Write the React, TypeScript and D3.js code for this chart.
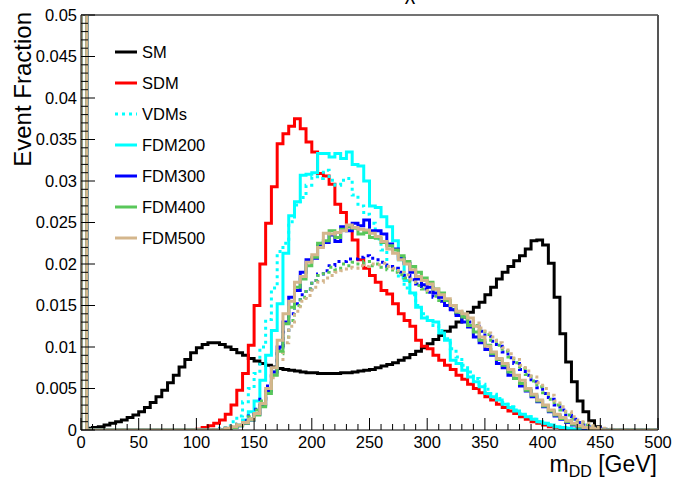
import React from "react";
import * as d3 from "d3";

// ---------- data (Event Fraction per 5 GeV bin, 0..500 GeV) ----------
const binEdgesGeV = d3.range(0, 505, 5);

const smValues = [
  0.06, 0.0002, 0.0003, 0.0004, 0.0006, 0.0008, 0.001, 0.0012, 0.0015, 0.0018,
  0.0022, 0.0027, 0.0033, 0.004, 0.0048, 0.0057, 0.0066, 0.0076, 0.0085, 0.0093,
  0.0099, 0.0103, 0.0105, 0.0105, 0.0103, 0.01, 0.0097, 0.0093, 0.009, 0.0086,
  0.0083, 0.008, 0.0078, 0.0076, 0.0074, 0.0073, 0.0072, 0.0071, 0.007, 0.0069,
  0.0069, 0.0068, 0.0068, 0.0068, 0.0068, 0.0069, 0.0069, 0.007, 0.0071, 0.0072,
  0.0073, 0.0075, 0.0077, 0.0079, 0.0081, 0.0084, 0.0087, 0.0091, 0.0095, 0.0099,
  0.0104, 0.0109, 0.0114, 0.0119, 0.0124, 0.013, 0.0136, 0.0142, 0.0148, 0.0154,
  0.0163, 0.0172, 0.0182, 0.019, 0.0197, 0.0204, 0.021, 0.0218, 0.0228, 0.0229,
  0.0223, 0.0201, 0.016, 0.0116, 0.0082, 0.0058, 0.0035, 0.0022, 0.0011, 0.0004,
  0.0001, 0, 0, 0, 0, 0, 0, 0, 0, 0,
];

const sdmValues = [
  0.06, 0, 0, 0, 0, 0, 0, 0, 0, 0,
  0, 0, 0, 0, 0, 0, 0, 0, 0, 0,
  0.0001, 0.0003, 0.0005, 0.0008, 0.0012, 0.0019, 0.003, 0.0048, 0.0068, 0.0102,
  0.015, 0.02, 0.0249, 0.0293, 0.0345, 0.0357, 0.0366, 0.0375, 0.0363, 0.0347,
  0.0335, 0.0309, 0.0306, 0.0296, 0.0272, 0.0262, 0.0245, 0.0229, 0.0205, 0.0195,
  0.0186, 0.0178, 0.0168, 0.0164, 0.0152, 0.014, 0.0132, 0.0125, 0.0108, 0.0101,
  0.0098, 0.009, 0.0084, 0.0078, 0.0073, 0.0066, 0.0061, 0.0055, 0.005, 0.0045,
  0.004, 0.0036, 0.0031, 0.0027, 0.0023, 0.002, 0.0016, 0.0013, 0.001, 0.0008,
  0.0006, 0.0004, 0.0003, 0.0002, 0.0001, 0.0001, 0, 0, 0, 0,
  0, 0, 0, 0, 0, 0, 0, 0, 0, 0,
];

const vdmsValues = [
  0.06, 0, 0, 0, 0, 0, 0, 0, 0, 0,
  0, 0, 0, 0, 0, 0, 0, 0, 0, 0,
  0, 0, 0, 0, 0.0002, 0.0005, 0.001, 0.0017, 0.0034, 0.005,
  0.0068, 0.01, 0.0133, 0.0171, 0.0215, 0.0225, 0.0251, 0.0271, 0.028, 0.0295,
  0.0305, 0.0303, 0.0313, 0.0301, 0.0295, 0.0301, 0.0303, 0.0283, 0.027, 0.026,
  0.0249, 0.023, 0.0217, 0.0197, 0.0193, 0.0183, 0.0171, 0.0163, 0.015, 0.014,
  0.0132, 0.0126, 0.012, 0.011, 0.0098, 0.0088, 0.0078, 0.007, 0.0062, 0.0055,
  0.0049, 0.0043, 0.0038, 0.0033, 0.0028, 0.0024, 0.002, 0.0016, 0.0013, 0.001,
  0.0008, 0.0006, 0.0004, 0.0003, 0.0002, 0.0001, 0, 0, 0, 0,
  0, 0, 0, 0, 0, 0, 0, 0, 0, 0,
];

const fdm200Values = [
  0.06, 0, 0, 0, 0, 0, 0, 0, 0, 0,
  0, 0, 0, 0, 0, 0, 0, 0, 0, 0,
  0, 0, 0, 0, 0, 0, 0.0003, 0.0006, 0.0012, 0.0022,
  0.0035, 0.006, 0.009, 0.012, 0.0152, 0.0213, 0.0258, 0.0275, 0.0307, 0.0308,
  0.031, 0.0333, 0.0333, 0.0329, 0.0333, 0.0327, 0.0335, 0.032, 0.0318, 0.03,
  0.027, 0.0268, 0.0257, 0.0245, 0.0228, 0.0205, 0.018, 0.0165, 0.0148, 0.0135,
  0.0132, 0.013, 0.0117, 0.0108, 0.0084, 0.008, 0.0072, 0.0064, 0.0058, 0.0052,
  0.0044, 0.004, 0.0036, 0.0031, 0.0027, 0.0023, 0.0019, 0.0016, 0.0013, 0.001,
  0.0008, 0.0006, 0.0004, 0.0003, 0.0002, 0.0001, 0, 0, 0, 0,
  0, 0, 0, 0, 0, 0, 0, 0, 0, 0,
];

const fdm300Values = [
  0.06, 0, 0, 0, 0, 0, 0, 0, 0, 0,
  0, 0, 0, 0, 0, 0, 0, 0, 0, 0,
  0, 0, 0, 0, 0, 0.0001, 0.0003, 0.0005, 0.0008, 0.0012,
  0.0019, 0.003, 0.0047, 0.007, 0.01, 0.013, 0.016, 0.0168, 0.019, 0.0205,
  0.0207, 0.0222, 0.0226, 0.0235, 0.0227, 0.0245, 0.024, 0.0249, 0.0246, 0.0253,
  0.024, 0.024, 0.0236, 0.0224, 0.0218, 0.0207, 0.0201, 0.019, 0.0182, 0.0175,
  0.0172, 0.0165, 0.016, 0.015, 0.0145, 0.0138, 0.013, 0.0124, 0.0112, 0.0105,
  0.0097, 0.009, 0.008, 0.0075, 0.0066, 0.0062, 0.0053, 0.0047, 0.004, 0.0034,
  0.0028, 0.0022, 0.0017, 0.0013, 0.0009, 0.0006, 0.0004, 0.0002, 0.0001, 0,
  0, 0, 0, 0, 0, 0, 0, 0, 0, 0,
];

const fdm400Values = [
  0.06, 0, 0, 0, 0, 0, 0, 0, 0, 0,
  0, 0, 0, 0, 0, 0, 0, 0, 0, 0,
  0, 0, 0, 0, 0, 0.0001, 0.0003, 0.0005, 0.0008, 0.0012,
  0.0018, 0.0028, 0.0044, 0.0066, 0.0095, 0.0128, 0.0148, 0.0172, 0.0182, 0.0198,
  0.0208, 0.0225, 0.0228, 0.024, 0.0232, 0.0242, 0.0245, 0.0243, 0.0236, 0.0238,
  0.0232, 0.0231, 0.0226, 0.0222, 0.0217, 0.021, 0.0203, 0.0197, 0.019, 0.0183,
  0.0178, 0.017, 0.0165, 0.0156, 0.015, 0.0142, 0.0136, 0.0126, 0.0118, 0.0108,
  0.0102, 0.0092, 0.0085, 0.0078, 0.007, 0.0062, 0.0056, 0.0048, 0.0042, 0.0035,
  0.0029, 0.0023, 0.0018, 0.0014, 0.001, 0.0007, 0.0004, 0.0003, 0.0001, 0,
  0, 0, 0, 0, 0, 0, 0, 0, 0, 0,
];

const fdm500Values = [
  0.06, 0, 0, 0, 0, 0, 0, 0, 0, 0,
  0, 0, 0, 0, 0, 0, 0, 0, 0, 0,
  0, 0, 0, 0, 0, 0.0002, 0.0004, 0.0006, 0.0009, 0.0013,
  0.002, 0.0032, 0.005, 0.0075, 0.0108, 0.014, 0.0155, 0.0178, 0.0185, 0.0202,
  0.0211, 0.022, 0.0237, 0.0236, 0.0238, 0.024, 0.0247, 0.0244, 0.0242, 0.0241,
  0.0237, 0.0233, 0.0227, 0.0218, 0.0213, 0.0205, 0.02, 0.0193, 0.0185, 0.018,
  0.0176, 0.017, 0.0163, 0.0158, 0.015, 0.0143, 0.014, 0.0135, 0.0125, 0.0112,
  0.0101, 0.0094, 0.0086, 0.008, 0.0073, 0.0066, 0.006, 0.005, 0.0043, 0.0036,
  0.003, 0.0024, 0.0019, 0.0015, 0.0011, 0.0008, 0.0005, 0.0003, 0.0002, 0.0001,
  0, 0, 0, 0, 0, 0, 0, 0, 0, 0,
];

const fdm300DotValues = [
  0.06, 0, 0, 0, 0, 0, 0, 0, 0, 0,
  0, 0, 0, 0, 0, 0, 0, 0, 0, 0,
  0, 0, 0, 0, 0.0001, 0.0002, 0.0004, 0.0007, 0.0011, 0.0017,
  0.0025, 0.0037, 0.0053, 0.0075, 0.0098, 0.0118, 0.014, 0.0152, 0.0163, 0.017,
  0.018, 0.0188, 0.0192, 0.0198, 0.0203, 0.0203, 0.0206, 0.0206, 0.0208, 0.021,
  0.0207, 0.0205, 0.0202, 0.0197, 0.0195, 0.019, 0.0186, 0.0181, 0.0176, 0.017,
  0.0166, 0.016, 0.0155, 0.015, 0.0145, 0.014, 0.0135, 0.013, 0.0125, 0.0119,
  0.0113, 0.0107, 0.0101, 0.0094, 0.0087, 0.008, 0.0073, 0.0066, 0.0058, 0.0051,
  0.0044, 0.0037, 0.003, 0.0024, 0.0018, 0.0013, 0.0009, 0.0006, 0.0004, 0.0002,
  0.0001, 0, 0, 0, 0, 0, 0, 0, 0, 0,
];

const fdm400DotValues = [
  0.06, 0, 0, 0, 0, 0, 0, 0, 0, 0,
  0, 0, 0, 0, 0, 0, 0, 0, 0, 0,
  0, 0, 0, 0, 0, 0.0002, 0.0004, 0.0007, 0.001, 0.0016,
  0.0024, 0.0035, 0.005, 0.007, 0.0092, 0.0112, 0.0132, 0.015, 0.016, 0.017,
  0.018, 0.0186, 0.019, 0.0196, 0.0193, 0.02, 0.0198, 0.0202, 0.02, 0.0203,
  0.0198, 0.02, 0.0196, 0.0193, 0.019, 0.0187, 0.0183, 0.0179, 0.0174, 0.017,
  0.0166, 0.0161, 0.0156, 0.0152, 0.0146, 0.0141, 0.0136, 0.0131, 0.0126, 0.0121,
  0.0115, 0.0108, 0.0102, 0.0095, 0.0088, 0.0081, 0.0074, 0.0067, 0.0059, 0.0052,
  0.0045, 0.0037, 0.003, 0.0024, 0.0018, 0.0013, 0.0009, 0.0006, 0.0004, 0.0002,
  0.0001, 0, 0, 0, 0, 0, 0, 0, 0, 0,
];

const fdm500DotValues = [
  0.06, 0, 0, 0, 0, 0, 0, 0, 0, 0,
  0, 0, 0, 0, 0, 0, 0, 0, 0, 0,
  0, 0, 0, 0, 0.0001, 0.0002, 0.0004, 0.0006, 0.0009, 0.0014,
  0.0021, 0.0031, 0.0045, 0.0063, 0.0085, 0.0105, 0.0125, 0.0143, 0.0155, 0.0162,
  0.0172, 0.0178, 0.0183, 0.0186, 0.019, 0.0192, 0.0196, 0.0195, 0.0198, 0.0197,
  0.02, 0.0199, 0.0201, 0.0197, 0.0195, 0.019, 0.0187, 0.0182, 0.0178, 0.0174,
  0.0168, 0.0164, 0.016, 0.0154, 0.015, 0.0143, 0.0139, 0.0133, 0.0129, 0.0123,
  0.0117, 0.0112, 0.0105, 0.0099, 0.0092, 0.0085, 0.0078, 0.0071, 0.0064, 0.0057,
  0.005, 0.0042, 0.0035, 0.0028, 0.0022, 0.0016, 0.0012, 0.0008, 0.0005, 0.0003,
  0.0002, 0.0001, 0, 0, 0, 0, 0, 0, 0, 0,
];

const legendLabels = ["SM", "SDM", "VDMs", "FDM200", "FDM300", "FDM400", "FDM500"];
const xTickLabels = ["0", "50", "100", "150", "200", "250", "300", "350", "400", "450", "500"];
const yTickLabels = ["0", "0.005", "0.01", "0.015", "0.02", "0.025", "0.03", "0.035", "0.04", "0.045", "0.05"];

// ---------- styles ----------
const COL_SM = "#000000";
const COL_SDM = "#ff0000";
const COL_CYAN = "#00ffff";
const COL_BLUE = "#0000ff";
const COL_GREEN = "#59c75a";
const COL_TAN = "#d4b68c";
const DOT = "3 4";

const series = [
  { values: smValues, color: COL_SM, dash: null },
  { values: sdmValues, color: COL_SDM, dash: null },
  { values: vdmsValues, color: COL_CYAN, dash: DOT },
  { values: fdm200Values, color: COL_CYAN, dash: null },
  { values: fdm300DotValues, color: COL_BLUE, dash: DOT },
  { values: fdm400DotValues, color: COL_GREEN, dash: DOT },
  { values: fdm500DotValues, color: COL_TAN, dash: DOT },
  { values: fdm300Values, color: COL_BLUE, dash: null },
  { values: fdm400Values, color: COL_GREEN, dash: null },
  { values: fdm500Values, color: COL_TAN, dash: null },
];

const legendStyles = [
  { color: COL_SM, dash: null },
  { color: COL_SDM, dash: null },
  { color: COL_CYAN, dash: DOT },
  { color: COL_CYAN, dash: null },
  { color: COL_BLUE, dash: null },
  { color: COL_GREEN, dash: null },
  { color: COL_TAN, dash: null },
];

const W = 673;
const H = 477;
const X0 = 81;
const X1 = 658;
const Y0 = 430;
const Y1 = 15;
const FONT = "'Liberation Sans', Arial, Helvetica, sans-serif";

export default function App() {
  const x = d3.scaleLinear().domain([0, 500]).range([X0, X1]);
  const y = d3.scaleLinear().domain([0, 0.05]).range([Y0, Y1]);

  const line = d3
    .line<[number, number]>()
    .x((d) => x(d[0]))
    .y((d) => y(d[1]));

  const stepPath = (vals: number[]) => {
    const pts: [number, number][] = [[binEdgesGeV[0], 0]];
    vals.forEach((v, i) => {
      pts.push([binEdgesGeV[i], v]);
      pts.push([binEdgesGeV[i + 1], v]);
    });
    pts.push([binEdgesGeV[binEdgesGeV.length - 1], 0]);
    return line(pts) || "";
  };

  const xMinor = d3.range(0, 51).map((k) => k * 10);
  const yMinor = d3.range(0, 51).map((k) => k * 0.001);

  return (
    <svg
      width={W}
      height={H}
      style={{ position: "absolute", left: 0, top: 0, background: "#fff" }}
      fontFamily={FONT}
    >
      <defs>
        <clipPath id="plotClip">
          <rect x={X0} y={Y1} width={X1 - X0} height={Y0 - Y1} />
        </clipPath>
      </defs>
      <rect x={0} y={0} width={W} height={H} fill="#fff" />

      {/* partial title */}
      <text x={410} y={0} fontSize={20} textAnchor="middle" fill="#000">
        χ
      </text>

      {/* frame top / right */}
      <line x1={X0} x2={X1} y1={Y1} y2={Y1} stroke="#444" strokeWidth={1.5} />
      <line x1={X1} x2={X1} y1={Y1} y2={Y0} stroke="#555" strokeWidth={2} />

      {/* histograms */}
      <g clipPath="url(#plotClip)">
        {series.map((s, i) => (
          <path
            key={i}
            d={stepPath(s.values)}
            fill="none"
            stroke={s.color}
            strokeWidth={3}
            strokeDasharray={s.dash || undefined}
            strokeLinejoin="miter"
          />
        ))}
      </g>

      {/* axes */}
      <line x1={X0} x2={X0} y1={Y1} y2={Y0} stroke="#000" strokeWidth={1} />
      <line x1={X0} x2={X1} y1={Y0} y2={Y0} stroke="#000" strokeWidth={1} />

      {/* x ticks */}
      {xMinor.map((v, i) => (
        <line
          key={"xt" + i}
          x1={x(v)}
          x2={x(v)}
          y1={Y0}
          y2={Y0 - (i % 5 === 0 ? 12 : 6)}
          stroke="#000"
          strokeWidth={1}
        />
      ))}
      {xTickLabels.map((t, i) => (
        <text key={"xl" + i} x={x(i * 50)} y={448} fontSize={16.5} textAnchor="middle" fill="#000">
          {t}
        </text>
      ))}

      {/* y ticks */}
      {yMinor.map((v, i) => (
        <line
          key={"yt" + i}
          x1={X0}
          x2={X0 + (i % 5 === 0 ? 14 : 7)}
          y1={y(v)}
          y2={y(v)}
          stroke="#000"
          strokeWidth={1}
        />
      ))}
      {yTickLabels.map((t, i) => (
        <text
          key={"yl" + i}
          x={77}
          y={y(i * 0.005)}
          dy="0.36em"
          fontSize={16.5}
          textAnchor="end"
          fill="#000"
        >
          {t}
        </text>
      ))}

      {/* axis titles */}
      <text
        transform={`translate(31,12) rotate(-90)`}
        fontSize={24}
        textAnchor="end"
        fill="#000"
      >
        Event Fraction
      </text>
      <text x={657} y={472} fontSize={23} textAnchor="end" fill="#000">
        m
        <tspan fontSize={16} dy={5}>DD</tspan>
        <tspan dy={-5}> [GeV]</tspan>
      </text>

      {/* legend */}
      {legendLabels.map((lab, i) => {
        const cy = 52 + i * 31;
        const st = legendStyles[i];
        return (
          <g key={"lg" + i}>
            <line
              x1={115}
              x2={137}
              y1={cy}
              y2={cy}
              stroke={st.color}
              strokeWidth={3}
              strokeDasharray={st.dash || undefined}
            />
            <text x={142} y={cy} dy="0.36em" fontSize={16.5} fill="#000">
              {lab}
            </text>
          </g>
        );
      })}
    </svg>
  );
}
